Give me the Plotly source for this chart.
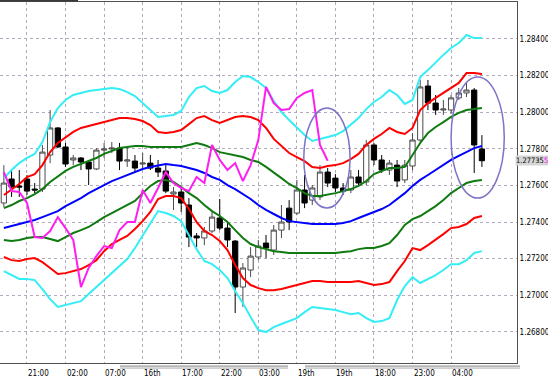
import plotly.graph_objects as go

# ---------------- data ----------------
bars = list(range(-3, 60))  # hourly bar index

opens = [1.27504,1.27635,1.27597,1.27635,1.27580,1.27580,1.27766,1.27914,1.27810,1.27739,
         1.27750,1.27728,1.27690,1.27793,1.27799,1.27804,1.27733,1.27733,1.27717,1.27722,
         1.27695,1.27679,1.27553,1.27564,1.27493,1.27324,1.27313,1.27351,1.27422,1.27367,
         1.27296,1.27045,1.27138,1.27209,1.27285,1.27247,1.27356,1.27476,1.27449,1.27575,
         1.27520,1.27537,1.27673,1.27640,1.27586,1.27575,1.27646,1.27619,1.27821,1.27739,
         1.27684,1.27711,1.27630,1.27706,1.27848,1.28143,1.28050,1.28012,1.28012,1.28078,
         1.28105,1.28121,1.27799]
highs = [1.27711,1.27684,1.27684,1.27657,1.27613,1.27821,1.28012,1.27919,1.27832,1.27766,
         1.27755,1.27739,1.27804,1.27832,1.27837,1.27832,1.27810,1.27766,1.27777,1.27766,
         1.27739,1.27711,1.27591,1.27591,1.27531,1.27340,1.27373,1.27455,1.27526,1.27395,
         1.27302,1.27176,1.27263,1.27302,1.27329,1.27384,1.27493,1.27520,1.27630,1.27657,
         1.27602,1.27711,1.27695,1.27662,1.27613,1.27684,1.27684,1.27848,1.27832,1.27766,
         1.27739,1.27739,1.27739,1.27886,1.28176,1.28176,1.28094,1.28067,1.28094,1.28132,
         1.28160,1.28132,1.27875]
lows = [1.27482,1.27537,1.27537,1.27548,1.27558,1.27564,1.27722,1.27804,1.27701,1.27711,
        1.27684,1.27602,1.27684,1.27750,1.27777,1.27684,1.27701,1.27673,1.27695,1.27684,
        1.27646,1.27558,1.27466,1.27455,1.27263,1.27263,1.27274,1.27340,1.27356,1.27263,
        1.26903,1.26936,1.27099,1.27192,1.27203,1.27220,1.27313,1.27356,1.27438,1.27476,
        1.27493,1.27520,1.27591,1.27564,1.27548,1.27558,1.27597,1.27602,1.27711,1.27668,
        1.27657,1.27591,1.27613,1.27684,1.27837,1.28012,1.27985,1.27985,1.27990,1.28067,
        1.28083,1.27668,1.27701]
closes = [1.27613,1.27591,1.27591,1.27569,1.27575,1.27782,1.27914,1.27810,1.27717,1.27750,
          1.27728,1.27690,1.27793,1.27799,1.27804,1.27733,1.27739,1.27695,1.27722,1.27695,
          1.27673,1.27569,1.27564,1.27504,1.27318,1.27313,1.27351,1.27427,1.27367,1.27302,
          1.27045,1.27149,1.27214,1.27269,1.27258,1.27356,1.27400,1.27400,1.27575,1.27504,
          1.27586,1.27673,1.27613,1.27586,1.27569,1.27646,1.27613,1.27821,1.27739,1.27684,
          1.27722,1.27624,1.27711,1.27848,1.28138,1.28050,1.28012,1.28017,1.28078,1.28105,
          1.28121,1.27821,1.27735]

ma_mid = [1.27367,1.27378,1.27389,1.27400,1.27411,1.27427,1.27444,1.27460,1.27487,1.27509,
          1.27531,1.27558,1.27580,1.27602,1.27624,1.27640,1.27657,1.27673,1.27690,1.27701,
          1.27711,1.27717,1.27711,1.27706,1.27695,1.27684,1.27668,1.27646,1.27630,1.27602,
          1.27580,1.27553,1.27526,1.27493,1.27466,1.27444,1.27422,1.27405,1.27400,1.27395,
          1.27389,1.27389,1.27389,1.27389,1.27395,1.27405,1.27422,1.27438,1.27455,1.27471,
          1.27493,1.27526,1.27558,1.27597,1.27630,1.27657,1.27684,1.27711,1.27739,1.27761,
          1.27782,1.27804,1.27815]
band3_up = [1.27640,1.27684,1.27722,1.27750,1.27772,1.27837,1.27946,1.28023,1.28067,1.28094,
            1.28105,1.28116,1.28121,1.28127,1.28132,1.28127,1.28110,1.28088,1.28050,1.28012,
            1.27974,1.27979,1.27985,1.28007,1.28083,1.28132,1.28143,1.28116,1.28105,1.28121,
            1.28165,1.28198,1.28192,1.28165,1.28132,1.28061,1.28001,1.27957,1.27914,1.27875,
            1.27843,1.27854,1.27864,1.27875,1.27897,1.27930,1.27968,1.28017,1.28056,1.28083,
            1.28121,1.28094,1.28045,1.28067,1.28192,1.28230,1.28274,1.28313,1.28351,1.28378,
            1.28422,1.28405,1.28405]
band3_dn = [1.27132,1.27110,1.27089,1.27089,1.27083,1.27034,1.26979,1.26936,1.26946,1.26957,
            1.26968,1.27007,1.27045,1.27083,1.27121,1.27160,1.27198,1.27258,1.27324,1.27389,
            1.27460,1.27449,1.27433,1.27405,1.27329,1.27252,1.27187,1.27170,1.27138,1.27094,
            1.27023,1.26957,1.26881,1.26810,1.26799,1.26826,1.26843,1.26859,1.26875,1.26908,
            1.26936,1.26930,1.26925,1.26919,1.26908,1.26897,1.26903,1.26875,1.26854,1.26859,
            1.26875,1.26974,1.27050,1.27099,1.27067,1.27089,1.27110,1.27138,1.27170,1.27170,
            1.27192,1.27231,1.27241]
band2_up = [1.27548,1.27580,1.27608,1.27646,1.27662,1.27711,1.27782,1.27832,1.27864,1.27892,
            1.27914,1.27925,1.27935,1.27946,1.27957,1.27968,1.27968,1.27963,1.27952,1.27930,
            1.27892,1.27886,1.27892,1.27903,1.27935,1.27968,1.27979,1.27957,1.27941,1.27957,
            1.27974,1.27979,1.27974,1.27957,1.27914,1.27854,1.27815,1.27777,1.27755,1.27733,
            1.27701,1.27695,1.27706,1.27711,1.27722,1.27744,1.27772,1.27821,1.27854,1.27881,
            1.27914,1.27892,1.27881,1.27914,1.28012,1.28050,1.28078,1.28105,1.28132,1.28160,
            1.28214,1.28214,1.28209]
band2_dn = [1.27209,1.27192,1.27187,1.27198,1.27203,1.27181,1.27149,1.27116,1.27121,1.27132,
            1.27143,1.27165,1.27192,1.27241,1.27280,1.27302,1.27324,1.27362,1.27405,1.27455,
            1.27526,1.27542,1.27542,1.27531,1.27471,1.27400,1.27351,1.27329,1.27296,1.27247,
            1.27165,1.27094,1.27056,1.27039,1.27028,1.27028,1.27034,1.27045,1.27056,1.27067,
            1.27078,1.27078,1.27072,1.27072,1.27072,1.27072,1.27078,1.27067,1.27056,1.27061,
            1.27072,1.27132,1.27187,1.27258,1.27247,1.27274,1.27302,1.27334,1.27367,1.27373,
            1.27389,1.27422,1.27433]
band1_up = [1.27476,1.27493,1.27515,1.27531,1.27553,1.27580,1.27619,1.27651,1.27679,1.27701,
            1.27717,1.27733,1.27750,1.27772,1.27788,1.27804,1.27810,1.27815,1.27815,1.27810,
            1.27810,1.27810,1.27810,1.27810,1.27821,1.27832,1.27821,1.27804,1.27782,1.27772,
            1.27766,1.27755,1.27739,1.27728,1.27701,1.27668,1.27640,1.27608,1.27586,1.27558,
            1.27542,1.27542,1.27548,1.27558,1.27569,1.27580,1.27597,1.27624,1.27662,1.27679,
            1.27695,1.27695,1.27701,1.27766,1.27832,1.27886,1.27919,1.27946,1.27974,1.27996,
            1.28012,1.28017,1.28023]
band1_dn = [1.27302,1.27296,1.27302,1.27313,1.27318,1.27318,1.27307,1.27296,1.27318,1.27340,
            1.27356,1.27373,1.27400,1.27427,1.27449,1.27471,1.27493,1.27515,1.27558,1.27597,
            1.27624,1.27630,1.27619,1.27591,1.27558,1.27531,1.27493,1.27460,1.27433,1.27400,
            1.27356,1.27313,1.27280,1.27263,1.27252,1.27241,1.27236,1.27231,1.27231,1.27231,
            1.27231,1.27231,1.27231,1.27231,1.27236,1.27241,1.27252,1.27258,1.27258,1.27269,
            1.27285,1.27329,1.27384,1.27416,1.27433,1.27460,1.27487,1.27520,1.27558,1.27586,
            1.27613,1.27624,1.27630]

lag_shift = 20  # lagging span: close plotted 20 bars back
tick_bars = [0, 5, 10, 15, 20, 25, 30, 35, 40, 45, 50, 55]
tick_labels = ["21:00", "02:00", "07:00", "16th", "17:00", "22:00", "03:00",
               "19th", "19th", "18:00", "23:00", "04:00"]
price_ticks = [1.268, 1.270, 1.272, 1.274, 1.276, 1.278, 1.280, 1.282, 1.284]
price_tick_text = ["1.26800", "1.27000", "1.27200", "1.27400", "1.27600",
                   "1.27800", "1.28000", "1.28200", "1.28400"]
last_price = closes[-1]

# ---------------- figure ----------------
FONT = "Liberation Sans Narrow, DejaVu Sans Condensed, Liberation Sans, Arial, sans-serif"
fig = go.Figure()

def add_line(y, color, width=2):
    fig.add_trace(go.Scatter(x=bars, y=y, mode="lines",
                             line=dict(color=color, width=width), hoverinfo="skip"))

add_line(band1_dn, "#0f7a0f")
add_line(band2_dn, "#ff0000")
add_line(band3_dn, "#33eef6")
add_line(ma_mid, "#0000ff")
add_line(band1_up, "#0f7a0f")
add_line(band2_up, "#ff0000")
add_line(band3_up, "#33eef6")

fig.add_trace(go.Candlestick(
    x=bars, open=opens, high=highs, low=lows, close=closes,
    increasing=dict(line=dict(color="#4a4a4a", width=1), fillcolor="#ffffff"),
    decreasing=dict(line=dict(color="#000000", width=1), fillcolor="#000000"),
    whiskerwidth=0, hoverinfo="skip"))

lag_x = [b - lag_shift for b in bars[lag_shift:]]
lag_y = closes[lag_shift:]
fig.add_trace(go.Scatter(x=lag_x, y=lag_y, mode="lines",
                         line=dict(color="#ff1ef0", width=2), hoverinfo="skip"))

# ellipses highlighting areas
ell = "#7b74c9"
fig.add_shape(type="circle", xref="x", yref="y", x0=35.9, x1=41.9, y0=1.27477, y1=1.28023,
              line=dict(color=ell, width=1.5))
fig.add_shape(type="circle", xref="x", yref="y", x0=55.0, x1=61.9, y0=1.27531, y1=1.28192,
              line=dict(color=ell, width=1.5))

# window decorations
fig.add_shape(type="line", xref="paper", yref="paper", x0=0, x1=0.151, y0=1.004, y1=1.004,
              line=dict(color="#3a3a3a", width=2))
for (a, b) in [(0.232, 0.557), (0.590, 1.006)]:
    fig.add_shape(type="line", xref="paper", yref="paper", x0=a, x1=b, y0=-0.0085, y1=-0.0085,
                  line=dict(color="#808080", width=1))
    fig.add_shape(type="line", xref="paper", yref="paper", x0=a, x1=b, y0=-0.014, y1=-0.014,
                  line=dict(color="#a8a8a8", width=1))

# x labels (left aligned at grid lines)
for b, t in zip(tick_bars, tick_labels):
    fig.add_annotation(x=b, y=0, xref="x", yref="paper", text=t, showarrow=False,
                       xanchor="left", yanchor="middle", yshift=-10, xshift=-1,
                       font=dict(family=FONT, size=8, color="#000000"))

# current price label (grey box) with the magenta tail digit of the hidden label
price_txt = f"{last_price:.5f}"
fig.add_annotation(x=1, y=last_price, xref="paper", yref="y",
                   text=price_txt + "<span style='color:#ff00ff'>" + price_txt[-1] + "</span>",
                   showarrow=False, xanchor="left", xshift=-2, bgcolor="#d6d6d6", borderpad=0,
                   font=dict(family=FONT, size=7.5, color="#000000"))

fig.update_layout(
    width=548, height=381,
    margin=dict(l=0, r=31, t=2, b=18),
    paper_bgcolor="#ffffff", plot_bgcolor="#ffffff",
    showlegend=False, boxgap=0.03,
    xaxis=dict(range=[-3.5, 63.55], tickvals=tick_bars, showticklabels=False, ticks="",
               showgrid=True, gridcolor="#b4a9bd", griddash="dot", gridwidth=1,
               zeroline=False, showline=True, mirror=True, linecolor="#505050", linewidth=1,
               rangeslider=dict(visible=False), fixedrange=True),
    yaxis=dict(range=[1.26630, 1.28602], side="right", tickvals=price_ticks,
               ticktext=price_tick_text, ticks="", ticklen=0, ticklabelstandoff=0,
               automargin=False,
               tickfont=dict(family=FONT, size=8, color="#000000"),
               showgrid=True, gridcolor="#b4a9bd", griddash="dot", gridwidth=1,
               zeroline=False, showline=True, mirror=True, linecolor="#505050", linewidth=1,
               fixedrange=True),
)

fig.write_html("out.html", config={"displayModeBar": False},
               post_script="document.body.style.margin='0';")
